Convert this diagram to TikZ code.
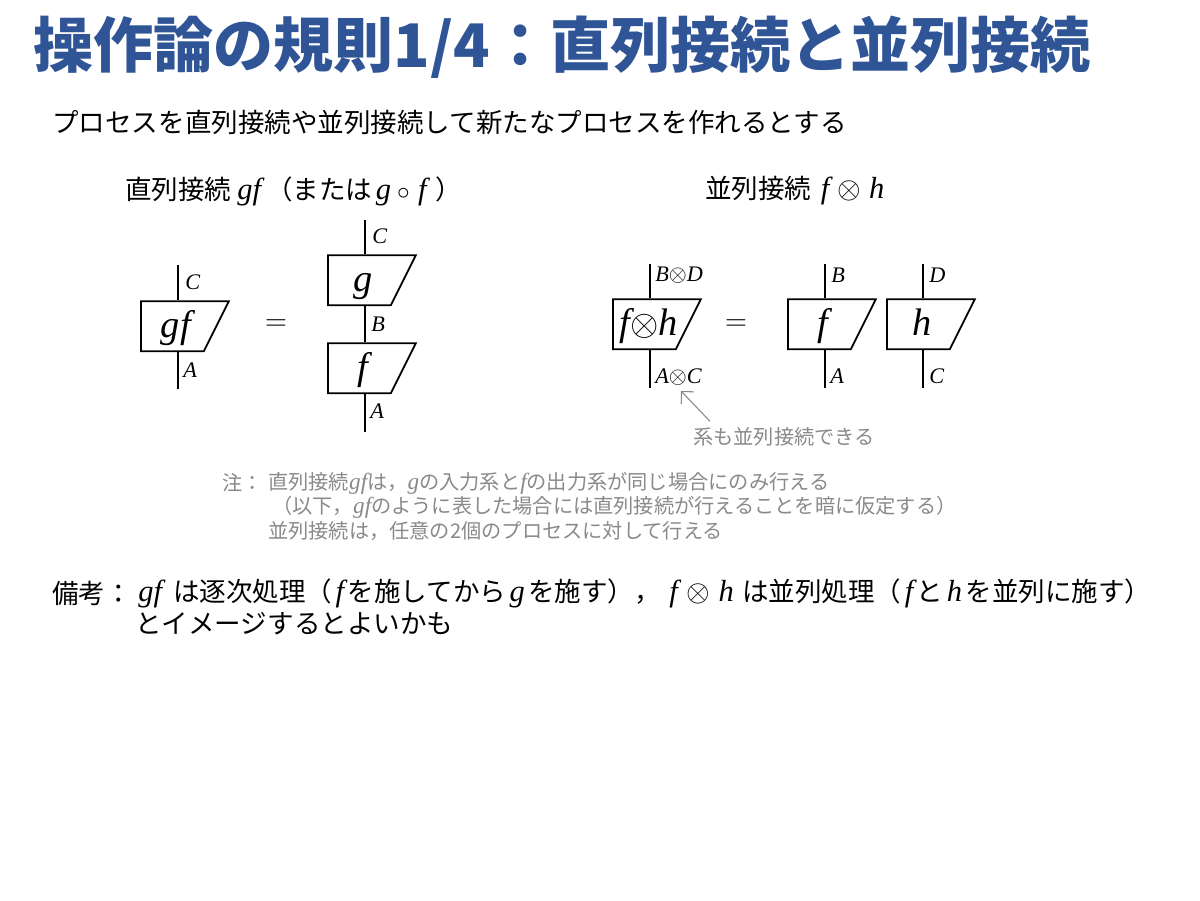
\documentclass[tikz,border=0pt]{standalone}
\usepackage{fontspec}
\setmainfont{Noto Sans CJK JP}
\newfontfamily\mitfont[Scale=1.15]{Liberation Serif}
\usetikzlibrary{arrows.meta,positioning,shapes.geometric}
\definecolor{ttlblue}{RGB}{47,85,151}
\definecolor{notegray}{RGB}{137,137,137}
\newcommand{\mi}[1]{{\mitfont\itshape #1}}
\newcommand{\mis}[1]{\hspace{0.07cm}\mi{#1}\hspace{0.07cm}}
\newcommand{\otm}{\scalebox{1.2}{$\otimes$}}
\newcommand{\pshift}[1]{\hspace*{0.14cm}#1\hspace*{-0.14cm}}

\begin{document}
\begin{tikzpicture}[x=0.02cm,y=-0.02cm,
  proc/.style={draw,trapezium,trapezium left angle=90,trapezium right angle=116.57,
               text width=1.26cm,align=center,text height=0.72cm,text depth=0.28cm,
               inner sep=0pt,line width=1pt,anchor=bottom left corner,
               font=\fontsize{19}{19}\selectfont},
  wire/.style={line width=1pt},
  lbl/.style={anchor=west,inner sep=0pt,font=\fontsize{11}{11}\selectfont},
  txt/.style={anchor=west,inner sep=0pt,font=\fontsize{15.1}{18}\selectfont},
  note/.style={anchor=west,inner sep=0pt,text=notegray,font=\fontsize{11.5}{13}\selectfont},
  eq/.style={inner sep=0pt,font=\fontsize{17}{17}\selectfont},
  >=Stealth
]
  \useasboundingbox (0,0) rectangle (1200,900);
  % title and lead
  \node[anchor=west,inner sep=0pt,text=ttlblue,font=\fontsize{34.2}{34}\selectfont\bfseries] (title) at (33,47) {操作論の規則1/4：直列接続と並列接続};
  \node[txt] (lead) at (52,122) {プロセスを直列接続や並列接続して新たなプロセスを作れるとする};
  \node[txt] (serhd) at (125,191) {直列接続 \mi{gf}\hspace{0.1cm}（または\mis{g}\hspace{0.05cm}$\circ$\hspace{0.1cm}\mis{f}\hspace{0.1cm}）};
  \node[txt] (parhd) at (705,191) {並列接続 \mis{f}\hspace{0.1cm}\otm\hspace{0.15cm}\mi{h}};

  % serial: gf = g after f
  \node[proc] (gf) at (140,352) {\pshift{\mi{gf}}};
  \coordinate (gfout) at (178,265);
  \coordinate (gfin) at (178,389);
  \draw[wire] (gfout) -- (gfout |- gf.north);
  \draw[wire] (gfin |- gf.south) -- (gfin);
  \node[lbl] (gfC) at (185,282) {\mi{C}};
  \node[lbl] (gfA) at (183,370) {\mi{A}};
  \node[eq] (eqser) at (276,325) {$=$};
  \node[proc] (g) at (327,306) {\pshift{\mi{g}}};
  \node[proc] (f) at (327,394) {\pshift{\mi{f}}};
  \coordinate (gout) at (365,220);
  \coordinate (fin) at (365,432);
  \draw[wire] (gout) -- (gout |- g.north);
  \draw[wire] (gout |- g.south) -- (gout |- f.north);
  \draw[wire] (fin |- f.south) -- (fin);
  \node[lbl] (gC) at (372,236) {\mi{C}};
  \node[lbl] (gB) at (371,324) {\mi{B}};
  \node[lbl] (fA) at (370,411) {\mi{A}};

  % parallel: f (x) h
  \node[proc] (fh) at (612,350) {\pshift{\mi{f}\otm\mi{h}}};
  \coordinate (fhout) at (650,264);
  \coordinate (fhin) at (650,388);
  \draw[wire] (fhout) -- (fhout |- fh.north);
  \draw[wire] (fhin |- fh.south) -- (fhin);
  \node[lbl] (fhBD) at (655,275) {\mi{B}\otm\mi{D}};
  \node[lbl] (fhAC) at (655,377) {\mi{A}\otm\mi{C}};
  \node[eq] (eqpar) at (736,325) {$=$};
  \node[proc] (pf) at (787,350) {\pshift{\mi{f}}};
  \node[proc] (ph) at (886,350) {\pshift{\mi{h}}};
  \coordinate (pfout) at (825,264);
  \coordinate (pfin) at (825,388);
  \coordinate (phout) at (923,264);
  \coordinate (phin) at (923,388);
  \draw[wire] (pfout) -- (pfout |- pf.north);
  \draw[wire] (pfin |- pf.south) -- (pfin);
  \draw[wire] (phout) -- (phout |- ph.north);
  \draw[wire] (phin |- ph.south) -- (phin);
  \node[lbl] (pfB) at (831,275) {\mi{B}};
  \node[lbl] (pfA) at (830,376) {\mi{A}};
  \node[lbl] (phD) at (929,275) {\mi{D}};
  \node[lbl] (phC) at (929,376) {\mi{C}};
  \node[note] (sysnote) at (693,437) {系も並列接続できる};
  \coordinate (systip) at (681,391);
  \draw[notegray,line width=0.6pt,-{Straight Barb[length=5pt]}] ([xshift=0.34cm,yshift=0.12cm]sysnote.north west) -- (systip);

  % notes
  \node[note] (nthead) at (222,483) {注：};
  \node[note] (nt1) at (268,483) {直列接続\mi{gf}は，\mi{g}の入力系と\mi{f}の出力系が同じ場合にのみ行える};
  \node[note] (nt2) at (272,507) {（以下，\mi{gf}のように表した場合には直列接続が行えることを暗に仮定する）};
  \node[note] (nt3) at (268,531) {並列接続は，任意の2個のプロセスに対して行える};

  % remark
  \node[txt] (rmhead) at (52,593) {備考：};
  \node[txt] (rm1) at (138,593) {\mi{gf}\hspace{0.1cm} は逐次処理（\mis{f}を施してから\mis{g}を施す），\hspace{0.1cm}\mis{f}\hspace{0.1cm}\otm\hspace{0.1cm}\mis{h}\hspace{0.1cm}は並列処理（\mis{f}と\mis{h}を並列に施す）};
  \node[txt] (rm2) at (135,624) {とイメージするとよいかも};
\end{tikzpicture}
\end{document}
